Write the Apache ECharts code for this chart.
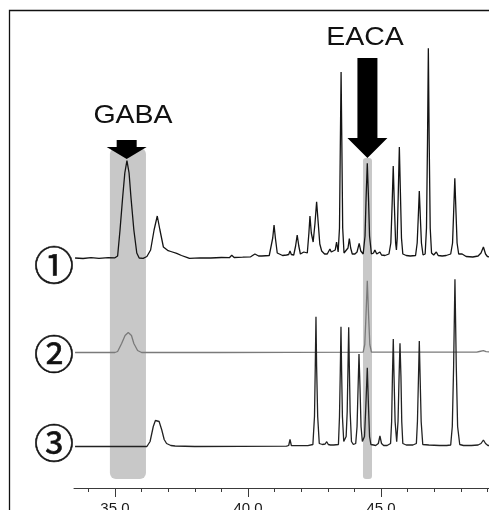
<!DOCTYPE html>
<html><head><meta charset="utf-8">
<script src="https://cdn.jsdelivr.net/npm/echarts@6/dist/echarts.min.js"></script>
<style>html,body{margin:0;padding:0;background:#fff;}#c{width:489px;height:510px;}</style>
</head><body><div id="c"></div>
<script>
// ---- data (retention time in min, detector signal above each trace's own baseline) ----
const xTickLabels = [35, 40, 45];
const xMinorTicks = [34, 36, 37, 38, 39, 41, 42, 43, 44, 46, 47, 48, 49];
const traceNames = ['①', '②', '③'];
const traceOffsets = [230, 135.5, 41.5];

const trace1 = [
[33.50,0],[33.80,-0.5],[34.10,0.3],[34.40,-0.3],[34.75,0.3],[35.00,0.2],[35.10,2],[35.19,28],[35.29,61],[35.37,85],
[35.45,97.3],[35.53,85],[35.60,61],[35.71,28],[35.82,5],[35.91,0],[36.06,-0.3],[36.20,1.5],[36.34,8],[36.47,28],
[36.59,42],[36.69,28],[36.82,11],[37.00,7.3],[37.10,6.5],[37.32,4.7],[37.50,2.5],[37.70,0.7],[37.80,-0.3],[38.20,0.2],
[38.60,0],[39.00,0.5],[39.30,0.3],[39.39,2.7],[39.48,0.5],[39.80,0.8],[40.10,1.2],[40.26,4],[40.40,2],[40.52,2],
[40.80,2.5],[40.86,4],[40.93,20],[40.98,33],[41.03,20],[41.10,5],[41.14,3],[41.30,2.5],[41.45,3],[41.53,3.5],
[41.58,7],[41.63,3.5],[41.72,3],[41.79,12],[41.85,23],[41.91,12],[41.97,4],[42.03,3.5],[42.10,6],[42.16,4],
[42.23,5],[42.29,25],[42.33,42],[42.38,25],[42.45,16],[42.52,35],[42.58,56.3],[42.64,35],[42.70,14],[42.77,7],
[42.88,4],[42.98,4],[43.04,6],[43.08,9],[43.13,6],[43.20,4],[43.28,8],[43.33,16],[43.39,6],[43.44,30],
[43.47,110],[43.50,186],[43.53,110],[43.56,30],[43.61,5],[43.68,4],[43.76,10],[43.81,19.5],[43.86,10],[43.92,4],
[44.02,4],[44.10,6],[44.18,14.7],[44.24,7],[44.33,4],[44.40,22],[44.44,60],[44.485,94.7],[44.53,60],[44.57,22],
[44.64,4],[44.72,5],[44.77,8],[44.84,4],[44.90,3.5],[44.96,6],[45.02,3],[45.15,2.5],[45.30,4],[45.37,15],
[45.42,55],[45.46,92],[45.50,55],[45.55,15],[45.58,8],[45.61,20],[45.65,65],[45.69,111],[45.73,65],[45.77,20],
[45.82,4],[45.95,2.5],[46.02,4.5],[46.10,2],[46.30,2.5],[46.36,15],[46.40,40],[46.44,67],[46.48,40],[46.52,15],
[46.58,3],[46.66,4],[46.71,30],[46.75,120],[46.78,209.7],[46.81,120],[46.85,30],[46.90,5],[46.98,3],[47.08,6],
[47.15,2.5],[47.30,2],[47.45,2.5],[47.62,4],[47.69,15],[47.73,45],[47.775,79.7],[47.82,45],[47.86,15],[47.92,4],
[48.05,4],[48.20,1.5],[48.45,1],[48.65,2],[48.76,5],[48.85,11],[48.93,4],[49.00,1.5],[49.10,1]
];

const trace2 = [
[33.50,0],[35.00,0],[35.10,1],[35.25,9],[35.38,17],[35.50,20],[35.62,17],[35.71,9],[35.85,2],[36.00,0],
[38.90,0],[38.92,0.3],[44.33,0.3],[44.39,8],[44.435,36],[44.485,71.8],[44.535,36],[44.58,8],[44.64,0.3],
[48.60,0.3],[48.70,1],[48.75,0.5],[48.85,1.8],[48.95,0.8],[49.10,0.5]
];

const trace3 = [
[33.50,0],[36.20,0],[36.32,5],[36.44,20],[36.52,26],[36.59,27.5],[36.66,25],[36.76,16.5],[36.85,7],[36.94,3],
[37.10,1],[37.26,0.5],[38.00,0],[41.45,0.3],[41.53,1],[41.58,7],[41.63,1],[41.70,0.5],[42.25,0.8],[42.44,2],
[42.50,30],[42.53,80],[42.556,129.8],[42.58,80],[42.62,30],[42.68,3],[42.80,2],[42.90,2.5],[42.96,4.8],[43.02,2],
[43.10,1.5],[43.15,2.5],[43.22,1.5],[43.40,2],[43.44,30],[43.47,75],[43.496,119.8],[43.52,75],[43.55,30],[43.60,5],
[43.65,3],[43.69,10],[43.73,35],[43.76,80],[43.786,119.2],[43.81,80],[43.84,35],[43.89,5],[43.96,2],[44.05,3],
[44.10,20],[44.14,60],[44.173,92.5],[44.21,60],[44.25,20],[44.30,5],[44.335,3.2],[44.38,10],[44.43,40],[44.485,78.8],
[44.53,40],[44.57,10],[44.62,2],[44.72,1.5],[44.80,1],[44.90,3],[44.96,10.5],[45.02,3],[45.10,1],[45.23,1],
[45.36,3],[45.40,25],[45.43,70],[45.462,107.5],[45.49,70],[45.53,25],[45.59,4.8],[45.64,25],[45.68,70],[45.714,103.2],
[45.75,70],[45.78,25],[45.82,3],[45.95,1.5],[46.20,1.5],[46.33,3],[46.37,25],[46.41,70],[46.44,105.5],[46.47,70],
[46.51,25],[46.57,2],[46.80,1.5],[47.20,1],[47.35,1],[47.41,2.5],[47.47,1],[47.62,1.5],[47.68,20],[47.73,80],
[47.78,167.2],[47.83,80],[47.88,20],[47.96,2],[48.10,1],[48.40,1],[48.65,1.5],[48.76,3],[48.85,6.5],[48.93,3],
[49.02,1],[49.10,1]
];

// highlighted retention windows: [tStart, tEnd, signalBottom, signalTop]
const highlightNames = ['GABA', 'EACA'];
const highlightBands = [[34.81, 36.165, 9, 340], [44.323, 44.662, 9, 330]];
// arrows: [tCenter, signalTop, signalHeadBase, signalTip]
const arrowMarks = [[35.44, 348, 341, 329], [44.49, 430, 350, 330]];

// ---- chart ----
const traces = [trace1, trace2, trace3];
const lineColors = ['#141414', '#7a7a7a', '#222222'];
const X_MIN = 33.46, X_MAX = 49.06;

const chart = echarts.init(document.getElementById('c'), null, {renderer: 'canvas'});

const lineSeries = traces.map((tr, i) => ({
  type: 'line',
  name: traceNames[i],
  data: tr.map(p => [p[0], p[1] + traceOffsets[i]]),
  showSymbol: false,
  symbol: 'none',
  z: 5,
  lineStyle: {color: lineColors[i], width: 1.3},
  animation: false
}));

const circleFont = '40px "Noto Sans CJK JP"';

const option = {
  animation: false,
  backgroundColor: '#ffffff',
  grid: {left: 74, right: 0, top: 10, bottom: 22, containLabel: false, outerBoundsMode: 'none'},
  xAxis: [{
    type: 'value', min: X_MIN, max: X_MAX, position: 'bottom',
    axisLine: {show: true, lineStyle: {color: '#3a3a3a', width: 1}},
    axisTick: {show: true, length: 9, customValues: xTickLabels, lineStyle: {color: '#3a3a3a', width: 1}},
    axisLabel: {show: true, customValues: xTickLabels, formatter: v => Number(v).toFixed(1),
      fontFamily: 'Liberation Sans', fontSize: 15, color: '#1a1a1a', margin: 13},
    splitLine: {show: false}
  }, {
    type: 'value', min: X_MIN, max: X_MAX, position: 'bottom', gridIndex: 0,
    axisLine: {show: false},
    axisTick: {show: true, length: 4, customValues: xMinorTicks, lineStyle: {color: '#3a3a3a', width: 1}},
    axisLabel: {show: false},
    splitLine: {show: false}
  }],
  yAxis: {type: 'value', min: 0, max: 478, show: false},
  graphic: [
    {type: 'rect', z: 100, shape: {x: 9.5, y: 10.5, width: 600, height: 600},
      style: {fill: 'none', stroke: '#111', lineWidth: 1.3}},
    {type: 'text', z: 100, x: 133, y: 116, scaleX: 1.14,
      style: {text: highlightNames[0], font: '25px "Liberation Sans"', fill: '#111', align: 'center', verticalAlign: 'middle'}},
    {type: 'text', z: 100, x: 365, y: 38, scaleX: 1.14,
      style: {text: highlightNames[1], font: '25px "Liberation Sans"', fill: '#111', align: 'center', verticalAlign: 'middle'}},
    {type: 'text', z: 100, x: 54, y: 265,
      style: {text: traceNames[0], font: circleFont, fill: '#111', stroke: '#111', lineWidth: 0.6, align: 'center', verticalAlign: 'middle'}},
    {type: 'text', z: 100, x: 54, y: 354,
      style: {text: traceNames[1], font: circleFont, fill: '#111', stroke: '#111', lineWidth: 0.6, align: 'center', verticalAlign: 'middle'}},
    {type: 'text', z: 100, x: 54, y: 442.5,
      style: {text: traceNames[2], font: circleFont, fill: '#111', stroke: '#111', lineWidth: 0.6, align: 'center', verticalAlign: 'middle'}}
  ],
  series: [
    {
      type: 'custom', z: 1, silent: true,
      data: highlightBands,
      renderItem: (params, api) => {
        const p0 = api.coord([api.value(0), api.value(3)]);
        const p1 = api.coord([api.value(1), api.value(2)]);
        const w = p1[0] - p0[0];
        return {type: 'rect', shape: {x: p0[0], y: p0[1], width: w, height: p1[1] - p0[1], r: Math.min(6, w / 3)},
          style: {fill: '#c8c8c8'}};
      }
    },
    ...lineSeries,
    {
      type: 'custom', z: 10, silent: true,
      data: arrowMarks,
      renderItem: (params, api) => {
        const top = api.coord([api.value(0), api.value(1)]);
        const base = api.coord([api.value(0), api.value(2)]);
        const tip = api.coord([api.value(0), api.value(3)]);
        const cx = top[0], sw = 10, hw = 20;
        return {type: 'polygon', shape: {points: [
          [cx - sw, top[1]], [cx + sw, top[1]], [cx + sw, base[1]], [cx + hw, base[1]],
          [cx, tip[1]], [cx - hw, base[1]], [cx - sw, base[1]]
        ]}, style: {fill: '#000'}};
      }
    }
  ]
};
chart.setOption(option);
</script>
</body></html>
